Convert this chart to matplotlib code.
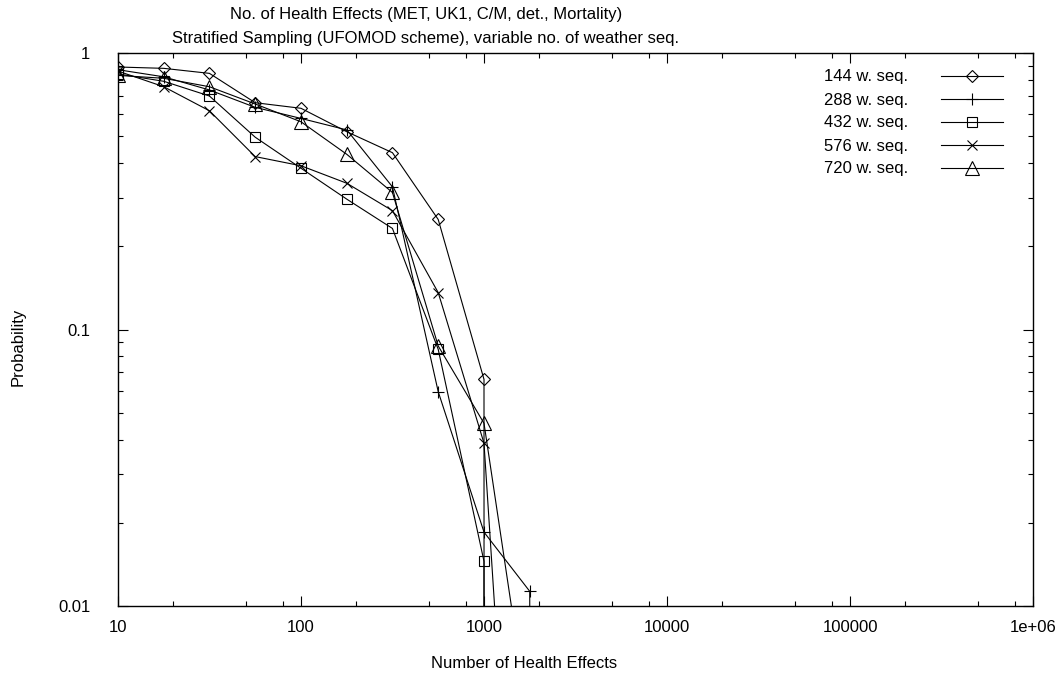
import matplotlib
matplotlib.use("Agg")
import matplotlib.pyplot as plt
from matplotlib.ticker import FixedLocator, FixedFormatter, LogLocator, NullFormatter

# x grid: quarter decades
effects = [10, 17.8, 31.6, 56.2, 100, 178, 316, 562, 1000, 1778, 3162]

# probability of exceedance per number of weather sequences (0 = none left)
p144 = [0.89, 0.88, 0.844, 0.661, 0.631, 0.519, 0.436, 0.250, 0.066, 0.0]
p288 = [0.87, 0.82, 0.735, 0.636, 0.580, 0.527, 0.328, 0.0596, 0.0185, 0.0113, 0.0]
p432 = [0.84, 0.79, 0.699, 0.496, 0.383, 0.296, 0.232, 0.0848, 0.0145, 0.0]
p576 = [0.86, 0.755, 0.618, 0.422, 0.391, 0.338, 0.269, 0.136, 0.0388, 0.00011, 0.0]
p720 = [0.83, 0.81, 0.755, 0.654, 0.564, 0.430, 0.313, 0.0872, 0.0458, 0.0036, 0.0]

labels = ["144 w. seq.", "288 w. seq.", "432 w. seq.", "576 w. seq.", "720 w. seq."]
series = [p144, p288, p432, p576, p720]
markers = ["D", "+", "s", "x", "^"]
msizes = [6.6, 8, 7.8, 7.5, 9.5]

xticks = [10, 100, 1000, 10000, 100000, 1000000]
xticklabels = ["10", "100", "1000", "10000", "100000", "1e+06"]
yticks = [0.01, 0.1, 1]
yticklabels = ["0.01", "0.1", "1"]

plt.rcParams['font.family'] = ['Liberation Sans', 'DejaVu Sans']
plt.rcParams['font.size'] = 12

fig = plt.figure(figsize=(10.55, 6.75), dpi=100)
W, H = 1055.0, 675.0
ax = fig.add_axes([118 / W, 1 - 606 / H, (1033 - 118) / W, (606 - 53) / H])

for p, lab, m, ms in zip(series, labels, markers, msizes):
    ax.plot(effects[:len(p)], p, color="black", linewidth=0.8, marker=m, markersize=ms,
            markerfacecolor="none", markeredgecolor="black", markeredgewidth=0.8, label=lab)

ax.set_xscale("log", nonpositive="clip")
ax.set_yscale("log", nonpositive="clip")
ax.set_xlim(10, 1e6)
ax.set_ylim(0.01, 1)

ax.xaxis.set_major_locator(FixedLocator(xticks))
ax.xaxis.set_major_formatter(FixedFormatter(xticklabels))
ax.xaxis.set_minor_locator(LogLocator(base=10, subs=[2, 5, 8]))
ax.xaxis.set_minor_formatter(NullFormatter())
ax.yaxis.set_major_locator(FixedLocator(yticks))
ax.yaxis.set_major_formatter(FixedFormatter(yticklabels))
ax.yaxis.set_minor_locator(LogLocator(base=10, subs=range(2, 10)))
ax.yaxis.set_minor_formatter(NullFormatter())

ax.tick_params(which="both", direction="in", top=True, right=True, width=0.8)
ax.tick_params(which="major", length=7.2)
ax.tick_params(which="minor", length=3.6)
ax.tick_params(axis="x", which="major", pad=10)
ax.tick_params(axis="y", which="major", pad=20)
for s in ax.spines.values():
    s.set_linewidth(1.0)

leg = ax.legend(loc="upper right", bbox_to_anchor=(1003 / W, 1 - 69.5 / H),
                bbox_transform=fig.transFigure, frameon=False, markerfirst=False,
                handlelength=3.7, handletextpad=2.0, labelspacing=0.48,
                borderpad=0, borderaxespad=0, fontsize=12)

fig.text(426 / W, 1 - 15 / H, "No. of Health Effects (MET, UK1, C/M, det., Mortality)",
         ha="center", va="center", fontsize=12)
fig.text(426 / W, 1 - 39 / H, "Stratified Sampling (UFOMOD scheme), variable no. of weather seq.",
         ha="center", va="center", fontsize=12)
fig.text(524 / W, 1 - 664 / H, "Number of Health Effects", ha="center", va="center", fontsize=12)
fig.text(18 / W, 1 - 347 / H, "Probability", ha="center", va="center", rotation=90, fontsize=12)

fig.savefig("out.png", dpi=100)
